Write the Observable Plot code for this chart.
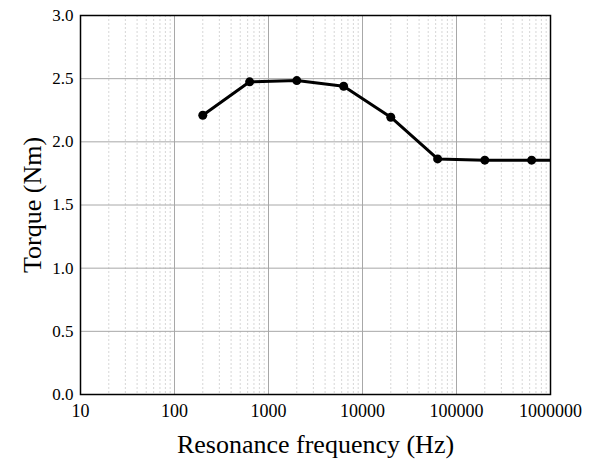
<!DOCTYPE html>
<html>
<head>
<meta charset="utf-8">
<script src="https://cdn.jsdelivr.net/npm/d3@7"></script>
<script src="https://cdn.jsdelivr.net/npm/@observablehq/plot@0.6"></script>
<style>
  html, body { margin: 0; padding: 0; background: #fff; }
  svg { display: block; }
  svg text { font-family: 'Liberation Serif', 'Times New Roman', serif; }
</style>
</head>
<body>
<div id="chart"></div>
<script>
const frequency = [200, 630, 2000, 6300, 20000, 63000, 200000, 630000, 2000000];
const torque = [2.21, 2.475, 2.485, 2.44, 2.195, 1.865, 1.855, 1.855, 1.855];
const xTicks = [10, 100, 1000, 10000, 100000, 1000000];
const yTicks = [0, 0.5, 1.0, 1.5, 2.0, 2.5, 3.0];

const data = frequency.map((f, i) => ({f, t: torque[i]}));
const minorTicks = [];
for (let d = 10; d < 1000000; d *= 10) for (let k = 2; k <= 9; k++) minorTicks.push(d * k);

const serif = "'Liberation Serif', 'Times New Roman', serif";
const chart = Plot.plot({
  width: 595,
  height: 464,
  marginLeft: 80,
  marginRight: 45,
  marginTop: 15,
  marginBottom: 70,
  style: {fontFamily: serif, fontSize: "17px", color: "#000", background: "#fff"},
  x: {type: "log", domain: [10, 1000000]},
  y: {domain: [0, 3]},
  marks: [
    Plot.ruleX(minorTicks, {stroke: "#cccccc", strokeWidth: 0.8, strokeDasharray: "2,2"}),
    Plot.ruleX(xTicks, {stroke: "#a8a8a8", strokeWidth: 1}),
    Plot.ruleY(yTicks, {stroke: "#a8a8a8", strokeWidth: 1}),
    Plot.frame({stroke: "#000", strokeWidth: 1.5}),
    Plot.axisX(xTicks, {tickSize: 0, tickPadding: 10, tickFormat: d => String(d), fontSize: 18, fontFamily: serif, label: null}),
    Plot.axisY(yTicks, {tickSize: 0, tickPadding: 7, tickFormat: d => d.toFixed(1), fontSize: 17, fontFamily: serif, label: null}),
    Plot.text(["Resonance frequency (Hz)"], {frameAnchor: "bottom", dy: 58, fontSize: 26, fontFamily: serif, textAnchor: "middle", text: d => d}),
    Plot.text(["Torque (Nm)"], {frameAnchor: "left", dx: -48, rotate: -90, fontSize: 26, fontFamily: serif, textAnchor: "middle", text: d => d}),
    Plot.line(data, {x: "f", y: "t", stroke: "#000", strokeWidth: 3, clip: true}),
    Plot.dot(data, {x: "f", y: "t", r: 4.5, fill: "#000", clip: true})
  ]
});
document.getElementById("chart").appendChild(chart);
</script>
</body>
</html>
